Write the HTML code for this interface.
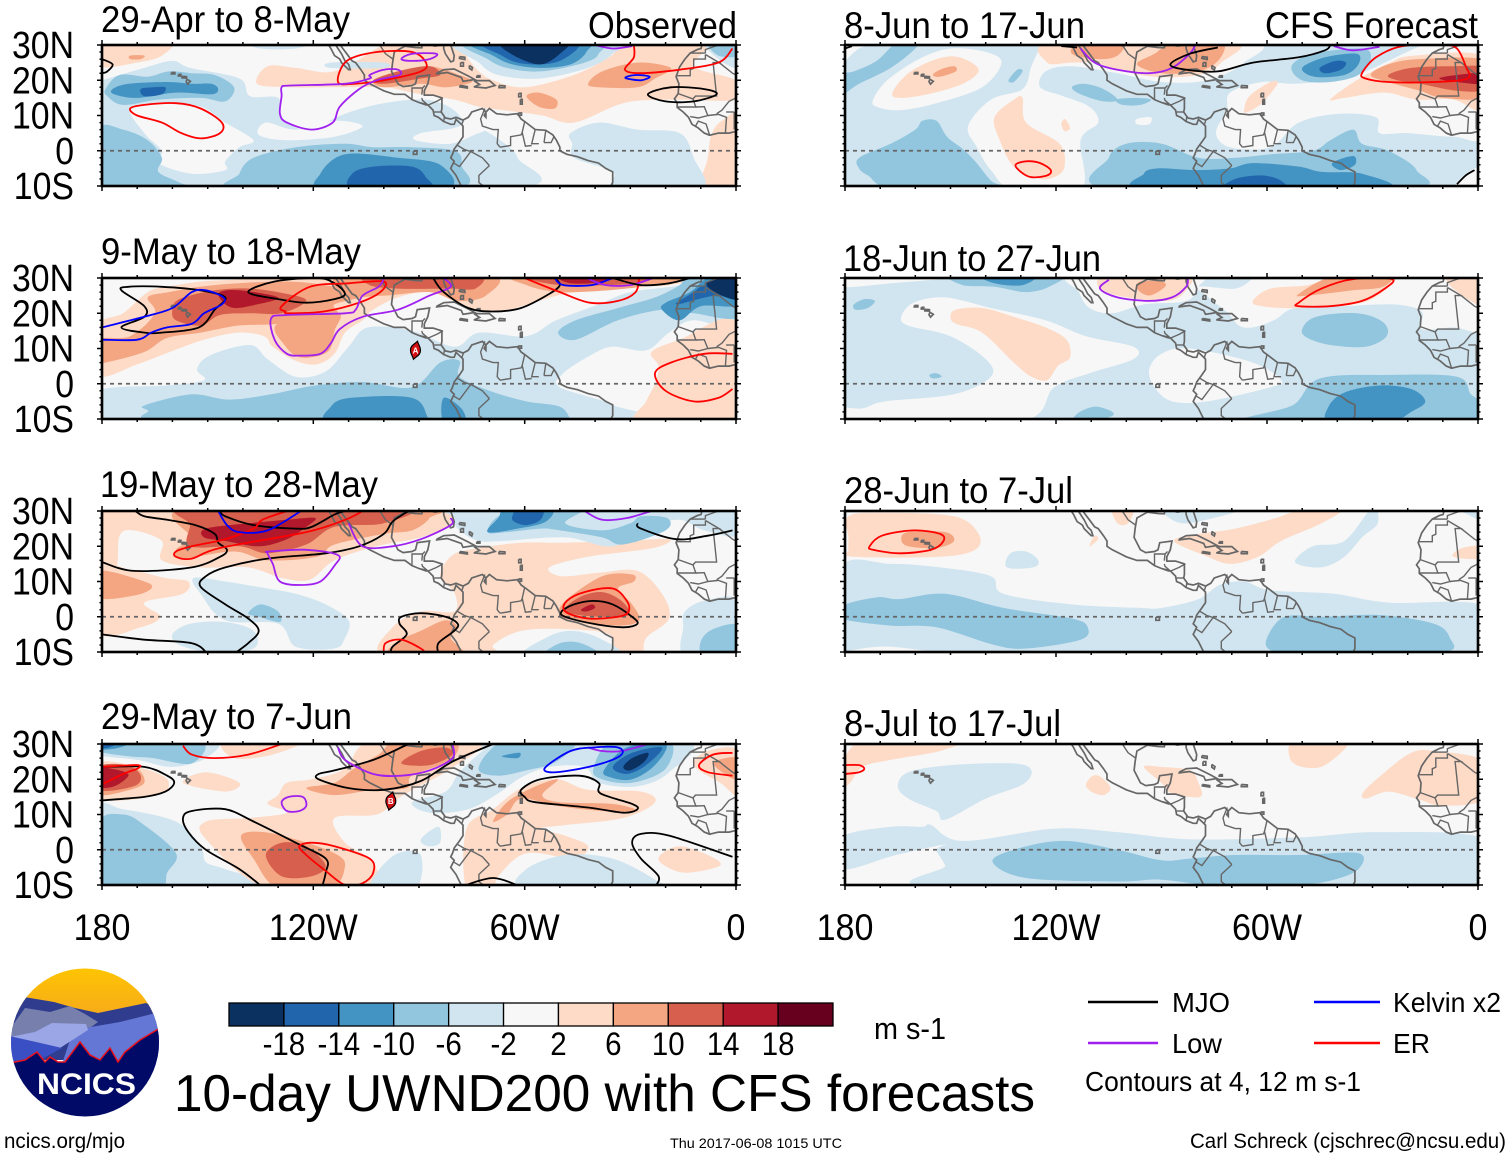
<!DOCTYPE html>
<html lang="en">
<head>
<meta charset="utf-8">
<title>10-day UWND200 with CFS forecasts</title>
<style>
html,body{margin:0;padding:0;background:#fff;}
body{width:1510px;height:1158px;overflow:hidden;}
svg{display:block;}
text{font-family:"Liberation Sans",sans-serif;fill:#000;}
</style>
</head>
<body>
<svg id="chart" xmlns="http://www.w3.org/2000/svg" width="1510" height="1158" viewBox="0 0 1510 1158">
<rect x="0" y="0" width="1510" height="1158" fill="#ffffff"/>
<g id="panels"></g>
<g font-size="37">
<text x="101" y="32" textLength="249" lengthAdjust="spacingAndGlyphs">29-Apr to 8-May</text>
<text x="588" y="38" textLength="149" lengthAdjust="spacingAndGlyphs">Observed</text>
<text x="101" y="264" textLength="260" lengthAdjust="spacingAndGlyphs">9-May to 18-May</text>
<text x="100" y="497" textLength="278" lengthAdjust="spacingAndGlyphs">19-May to 28-May</text>
<text x="101" y="729" textLength="251" lengthAdjust="spacingAndGlyphs">29-May to 7-Jun</text>
<text x="844" y="38" textLength="241" lengthAdjust="spacingAndGlyphs">8-Jun to 17-Jun</text>
<text x="1265" y="38" textLength="213" lengthAdjust="spacingAndGlyphs">CFS Forecast</text>
<text x="843" y="271" textLength="258" lengthAdjust="spacingAndGlyphs">18-Jun to 27-Jun</text>
<text x="844" y="503" textLength="229" lengthAdjust="spacingAndGlyphs">28-Jun to 7-Jul</text>
<text x="844" y="736" textLength="217" lengthAdjust="spacingAndGlyphs">8-Jul to 17-Jul</text>
</g>
<g id="colorbar"></g>
<text x="874" y="1039" font-size="31" textLength="72" lengthAdjust="spacingAndGlyphs">m s-1</text>
<text x="174" y="1111" font-size="52" textLength="861" lengthAdjust="spacingAndGlyphs">10-day UWND200 with CFS forecasts</text>
<g font-size="28">
<line x1="1088" x2="1158" y1="1002" y2="1002" stroke="#000" stroke-width="2.4"/>
<text x="1172" y="1012" textLength="58" lengthAdjust="spacingAndGlyphs">MJO</text>
<line x1="1314" x2="1380" y1="1002" y2="1002" stroke="#0000ff" stroke-width="2.4"/>
<text x="1393" y="1012" textLength="108" lengthAdjust="spacingAndGlyphs">Kelvin x2</text>
<line x1="1088" x2="1158" y1="1043" y2="1043" stroke="#a020f0" stroke-width="2.4"/>
<text x="1172" y="1053" textLength="50" lengthAdjust="spacingAndGlyphs">Low</text>
<line x1="1314" x2="1380" y1="1043" y2="1043" stroke="#ff0000" stroke-width="2.4"/>
<text x="1393" y="1053" textLength="37" lengthAdjust="spacingAndGlyphs">ER</text>
<text x="1085" y="1091" textLength="276" lengthAdjust="spacingAndGlyphs">Contours at 4, 12 m s-1</text>
</g>
<text x="4" y="1148" font-size="21" textLength="121" lengthAdjust="spacingAndGlyphs">ncics.org/mjo</text>
<text x="670" y="1148" font-size="14" textLength="172" lengthAdjust="spacingAndGlyphs">Thu 2017-06-08 1015 UTC</text>
<text x="1190" y="1148" font-size="21" textLength="316" lengthAdjust="spacingAndGlyphs">Carl Schreck (cjschrec@ncsu.edu)</text>
<g>
<clipPath id="logo-clip"><circle cx="85" cy="1042.5" r="74"/></clipPath>
<defs><linearGradient id="sky" x1="0" y1="0" x2="0" y2="1"><stop offset="0" stop-color="#ffc600"/><stop offset="1" stop-color="#f6ab1a"/></linearGradient></defs>
<g clip-path="url(#logo-clip)">
<rect x="5" y="965" width="160" height="50" fill="url(#sky)"/>
<polygon points="5,998 24,997 54,1002 75,1008 98,1013 146,1003 165,1012 165,1060 5,1060" fill="#303d8f"/>
<polygon points="5,1036 25,1008 50,1012 70,1006 85,1014 98,1022 80,1035 40,1045 5,1045" fill="#7780ad"/>
<polygon points="70,1040 85,1028 120,1022 160,1012 165,1012 165,1070 60,1070" fill="#6577d4"/>
<polygon points="10,1037 35,1032 52,1023 86,1024 88,1030 60,1048 36,1042" fill="#9aa6e6"/>
<polygon points="5,1035 36,1042 62,1048 40,1060 14,1066 5,1066" fill="#3a4fc4"/>
<polygon points="5,1064 25,1060 37,1052 45,1062 50,1057 58,1062 65,1062 80,1042 90,1055 100,1060 110,1048 118,1062 125,1052 140,1040 165,1025 165,1125 5,1125" fill="#010a66"/>
<polyline points="5,1064 25,1060 37,1052 45,1062 50,1057 58,1062 65,1062 80,1042 90,1055 100,1060 110,1048 118,1062 125,1052 140,1040 165,1025" fill="none" stroke="#e8101c" stroke-width="1.5"/>
</g>
<text x="37" y="1094" font-size="30" font-weight="bold" textLength="99" lengthAdjust="spacingAndGlyphs" style="fill:#fff">NCICS</text>
</g>
</svg>
<script>
// ---------- colour bar values ----------
const colorbarLevels = [-18,-14,-10,-6,-2,2,6,10,14,18];
const bandValues = [-20,-16,-12,-8,-4,0,4,8,12,16,20];
const bandColors = ['#0a3160','#2166ac','#4393c3','#92c5de','#d1e5f0','#f7f7f7','#fddbc7','#f4a582','#d6604d','#b2182b','#67001f'];
// ---------- axis tick labels ----------
const lonTickValues = [180,120,60,0];
const lonTickLabels = ['180','120W','60W','0'];
const latTickValues = [30,20,10,0,-10];
const latTickLabels = ['30N','20N','10N','0','10S'];
// ---------- tropical cyclones: name, deg W, deg N, panel index ----------
const stormNames = ['A','B'];
const stormLons = [91,98];
const stormLats = [9.5,13.8];
const stormPanels = [1,3];

// ---------- filled U-wind bands: [value, [[degW, degN], ...]] ----------
const fillsApr29 = [
[4,[[136,19],[133,24],[125,23.5],[114,22.5],[102,29],[98,31],[80,31],[76,26],[73,22.5],[69,20],[60,18],[46,21.5],[36,26.5],[30,30.5],[8,31],[12,24],[0,20],[-1,14.5],[19,14.5],[32,13.5],[46,8],[55,10],[66,11.5],[73,12.5],[80,14.5],[92,16.5],[100,18],[114,18],[127,18]]],
[4,[[181,31],[181,24],[170,25],[163,27],[161,31]]],
[4,[[-2,10],[4,8.5],[7,4.5],[8,-2],[9.5,-11],[-2,-11]]],
[8,[[172,27],[168,27],[169,26],[172,26]]],
[8,[[42,19],[38,22.5],[28,25],[18.5,23.5],[23,20.5],[28,18],[39,18]]],
[8,[[59.5,15.5],[56,16.5],[51,14.5],[51.5,12],[56,12.5]]],
[8,[[103,20],[96,22.5],[87,24],[78.5,21.5],[75,19.5],[82.5,18],[89.5,19],[100,18]]],
[12,[[103,20],[96,22.5],[87,24],[84,21.5],[89.5,20.5],[100,19]]],
[-4,[[180,20],[168,23.5],[160,25.5],[155,23.5],[141,20.5],[138,15.5],[130,15],[129,9.5],[122,6],[111,10.5],[100,13.5],[88,14.5],[80,11.5],[78.5,7],[89.5,5],[91,3],[81,2],[73,5],[70,5],[62,-2],[65,-11],[181,-11],[181,20]]],
[0,[[172,12],[163,13.5],[152,12.5],[145,8],[137,3],[141,1],[145,-3],[145,-5.5],[154.5,-6.5],[164,-3.5],[163,0],[168,5]]],
[0,[[133.5,8],[125,6],[114,8.5],[106,7],[114,4],[127.5,3],[135.5,4.5]]],
[-4,[[115,25],[100,25],[100,23.5],[115,23.5]]],
[-4,[[139,31],[120,31],[125,29],[135,29]]],
[-4,[[47,5],[39,8],[28,6],[16,5],[12,-2],[10,-11],[34,-11],[35,-6],[46,-2],[46.5,2]]],
[-8,[[181,6],[174,6],[167,3],[163,-2],[164,-6],[158,-9],[155,-11],[181,-11]]],
[-8,[[141,-6.5],[137,-2],[125,1],[111,2],[103,1],[92,1],[80,0],[78,-4],[81,-11],[141,-11]]],
[-12,[[118,-6.5],[111,-1],[96,-2],[84,-4],[82.5,-11],[116.5,-11]]],
[-16,[[109,-6.5],[103,-4.5],[92,-4.5],[88,-7.5],[87.5,-11],[108.5,-11]]],
[-8,[[179,17.5],[175,21.5],[167,21],[161,22.5],[154.5,22],[148,21.5],[142.5,18],[145,14],[152,15],[164,14.5],[174,13],[178.5,15.5]]],
[-12,[[177,17.5],[172.5,19],[161.5,19.5],[154.5,19],[149,19],[147,17.5],[149,16],[159,16.5],[170,15],[176.5,16]]],
[-16,[[169,17.5],[165.5,18],[162,18],[163,16],[168,15.5]]],
[-4,[[78.5,31],[73,25],[67.5,21.5],[55.5,20.5],[42,23.5],[35,27.5],[35,31]]],
[-8,[[76.5,31],[70.5,26],[65,23.5],[55.5,22.5],[43,25],[39,27.5],[40.5,31]]],
[-12,[[75,31],[69,27],[63.5,24.5],[55.5,23.5],[47,24.5],[42.5,28],[44,31]]],
[-16,[[72,31],[66.5,27],[62,25],[55.5,24.5],[50,25.5],[45,29],[46.5,31]]],
[-20,[[66.5,31],[63,27],[55.5,24.5],[50,27.5],[48.5,31]]],
[-4,[[9,31],[5,26],[-1,23.5],[-1,31]]],
[-8,[[8,31],[5,27],[-1,27],[-1,31]]]
];
const fillsMay9 = [
[4,[[181,16.5],[174,20],[167,26],[161.5,27.5],[152,29],[141,29.7],[141,31],[15,31],[19,28],[32,27.5],[48.5,25.5],[59,22.5],[65,21],[73,21],[80,23.5],[87,26],[96,24.5],[103,21],[106,18],[111,14.5],[114,8.5],[119,5.5],[125,6.5],[131.5,10.5],[134,13.5],[141.5,14.5],[151,12.5],[159.5,9.5],[170,5.5],[181,2.5]]],
[8,[[181,12.5],[172,13.5],[165,20],[167,24.5],[161,26],[148,28],[127.5,29],[114,27.5],[106,25],[114,22.5],[114,19.5],[130,17],[141.5,16.5],[152,14.5],[161.5,13],[168,9],[179,6],[181,6]]],
[8,[[131,16],[127,18],[113,20],[114,15],[116,9],[124,7.5],[129,12]]],
[8,[[111,31],[70,31],[71,25],[79,23.5],[87,26],[100,25],[111,25]]],
[8,[[61,31],[13,31],[27,27.5],[48.5,26],[59.5,28]]],
[12,[[160,21],[158,24],[148,26.5],[138,27],[127.5,25.5],[122,23.5],[129,20],[138,20],[146.5,19.5],[152,16.5],[159,18]]],
[16,[[146.5,26],[141,26.5],[130,24.5],[136,22.5],[142.5,21.5],[146,23.5]]],
[12,[[104,31],[74,31],[74,27],[81,27],[96,27],[104,28]]],
[12,[[59.5,31],[28,31],[28,28.5],[50,28]]],
[16,[[50.5,31],[35,31],[37.5,29],[47,28.5]]],
[-4,[[181,-2],[161.5,-0.5],[151,1],[153,4],[149.5,8],[138,11],[133,7],[125,2],[116.5,3.5],[110,10.5],[104.5,16],[92,15],[80,10.5],[73,14.5],[59.5,13.5],[51,18],[39,22.5],[30,26],[16,28],[13,31],[-1,31],[-1,16],[12,18],[19,14.5],[25.5,9.5],[35,10.5],[40.5,8.5],[49,3],[50,-1],[35,-6],[34,-11],[181,-11]]],
[4,[[24,9],[16,12.5],[0,17.5],[-1,-11],[27.5,-11],[25.5,-5],[23,0],[22,5]]],
[-8,[[167.5,-6],[154.5,-3],[144,-4.5],[132,-3],[119.5,-0.5],[106,0.5],[92,-1],[84,6],[78.5,6.5],[78.5,2],[70,-2],[59.5,-5],[50,-6.5],[47,-10],[46,-11],[157,-11],[167,-7.5]]],
[-12,[[115,-6.5],[109.5,-4],[92,-4],[87.5,-9.5],[87,-11],[115,-11]]],
[-12,[[83,-4],[78,-7],[77,-11],[83,-11]]],
[-8,[[50.5,14.5],[45.5,18],[33.5,21.5],[23,24.5],[16,28],[13,31],[-1,31],[-1,19],[12,20],[21,21],[33.5,18],[45.5,12.5]]],
[-12,[[21,21],[20,23],[13,26],[8,30],[-1,31],[-1,22.5],[10,22],[16,18]]],
[-16,[[17,22.5],[12,26],[9,28],[-1,31],[-1,24],[6,25]]],
[-20,[[6,26],[8,29],[-1,31],[-1,24]]]
];
const fillsMay19 = [
[4,[[181,31],[78.5,31],[80,26.5],[89.5,22.5],[102,20],[114,16],[121,10.5],[129,11],[138.5,14],[152,14],[163,16],[163,21.5],[171,24.5],[175,23],[176,14],[181,14]]],
[4,[[181,14],[172.5,13.5],[162,11],[155.5,10],[157,6.5],[168,4],[163.5,0],[169,-3],[181,-4.5]]],
[8,[[181,13],[168,10],[166,8],[171,6],[181,5.5]]],
[4,[[80,7],[84,11.5],[80.5,17.5],[73,19.5],[61,21],[48.5,21],[32,21.5],[19,22],[23.5,19.5],[42,17],[53,14],[49.5,11.5],[39,12.5],[28,13],[21,6.5],[19,-0.5],[25.5,-6],[27,-11],[34,-11],[36,-5],[48.5,-3.5],[61,-4],[69,-8],[69,-11],[100,-11],[97.5,-3],[89.5,1.5],[80,1.5]]],
[8,[[98,-11],[96,-7],[89.5,-4],[82.5,-1],[79,-3],[81,-6],[78,-11]]],
[8,[[50,0.5],[48.5,4.5],[38,11.5],[29.5,12],[29,10],[33.5,8],[29.5,3.5],[27.5,-1],[33.5,-2.5],[46,-1]]],
[12,[[48.5,1.5],[44.5,5.5],[38,7],[32.5,4.5],[30.5,0.5],[39,0]]],
[16,[[44,2],[41,3.5],[40,2.5],[42.5,1.5]]],
[8,[[159,19],[155,22.5],[155.5,31],[88,31],[87,28],[92,24.5],[100,23.5],[114,20.5],[119,17],[133,16],[142.5,18.5],[157.5,16.5]]],
[12,[[155,26],[155,31],[95,31],[100,26.5],[114,25.5],[122,20.5],[133,18],[141,20],[155,20]]],
[16,[[151,22.5],[150.5,25],[138.5,26.5],[127.5,27.5],[119.5,28],[122,25.5],[127.5,22],[135.5,20],[145,21.5]]],
[-4,[[154,11],[145,10],[133,8],[125,6.5],[116.5,3.5],[110,-1],[111,-6],[114,-9],[125,-8.5],[130,-2],[145,-1],[152,6.5]]],
[-4,[[160,-5],[155,-2],[145,-1.5],[137,-4],[137,-9],[149,-10],[158,-8]]],
[-8,[[138.5,1],[135,3.5],[130,1.5],[129.5,-1.5],[135.5,0]]],
[-4,[[80,28],[76,31],[-1,31],[-1,23],[9,24.5],[16,27.5],[24,25.5],[35,20],[48.5,22.5],[66,21.5],[73,21.5],[78.5,24.5]]],
[-8,[[70.5,24],[67.5,28.5],[59.5,31],[43,31],[48.5,26.5],[38,24.5],[30,26.5],[27,28.5],[19.5,28],[20,24.5],[32,20.5],[38,22.5],[50,24.5],[55.5,25],[65,24]]],
[-12,[[70.5,24],[67.5,28],[65,31],[52.5,31],[54,27],[62,25]]],
[-16,[[63.5,28.5],[61.5,31],[55,31],[55.5,27.5],[59.5,26],[63,27]]],
[-4,[[14.5,1.5],[9,4.5],[-1,4.5],[-1,-11],[14.5,-11],[15,-3]]],
[-8,[[10,-7],[6.5,-3.5],[-1,-2.5],[-1,-11],[9,-11]]],
[-4,[[59.5,-11],[54,-6],[47,-4],[39,-6],[33.5,-11]]],
[-8,[[54,-11],[50,-7.5],[44,-7.5],[39,-11]]]
];
const fillsMay29 = [
[-4,[[181,11.5],[174,11.5],[159,8],[152,1],[150.5,-3.5],[145,-5.5],[131.5,-11],[181,-11]]],
[-8,[[181,7.5],[174,10],[168,7],[159,-1],[161.5,-6.5],[164,-11],[181,-11]]],
[-4,[[181,31],[149,31],[150.5,26],[160,23.5],[170,25.5],[181,27]]],
[-8,[[181,31],[152.5,31],[154.5,24.5],[165.5,26],[172.5,26.5],[181,28]]],
[-12,[[181,31],[171.5,31],[175,29],[181,28.5]]],
[-16,[[181,31],[175,31],[178,29],[181,29]]],
[4,[[181,24.5],[170,23.5],[161.5,20],[164,15.5],[181,14.5]]],
[8,[[181,23.5],[171,23.5],[168,19],[174,16.5],[181,16]]],
[12,[[181,23.5],[173,24],[169,21],[171,18],[181,17]]],
[16,[[181,23],[175,22.5],[172.5,21],[176.5,18],[181,18]]],
[4,[[130,15.5],[127.5,19],[120.5,20],[111,23],[103,31],[72.5,31],[81,23],[91,17.5],[96,14.5],[102,10],[114,9],[111,2],[103,-3.5],[104.5,-11],[133,-11],[150.5,3],[150.5,8],[138.5,9],[127.5,10.5],[133,13]]],
[4,[[157,19],[150.5,22],[141,19],[145,16.5]]],
[4,[[145,31],[123.5,31],[131.5,27],[142.5,26]]],
[8,[[122,17.5],[114,19],[108.5,23],[101.5,27],[96,31],[80,31],[81,25.5],[92,21],[93.5,17.5],[103,17],[114,15.5]]],
[12,[[95,24.5],[89.5,28],[82.5,29],[80.5,27],[87,24]]],
[8,[[140.5,4],[134,5],[123.5,2.5],[114,-1],[111,-4.5],[115,-11],[130,-11],[137,-2.5]]],
[12,[[133.5,-1.5],[129,2],[122,1],[116.5,-4.5],[120.5,-7.5],[129,-7.5]]],
[-4,[[92,13.5],[82.5,16.5],[78.5,22],[72,28],[67.5,31],[15,31],[19,22],[28,18],[39,19],[43,23.5],[53,23.5],[61,20.5],[67.5,16],[76,11.5],[87,10.5]]],
[-8,[[73,22.5],[70.5,27.5],[65,30.5],[46,31],[51,25],[59.5,22.5],[67.5,21]]],
[-8,[[40.5,23],[35,31],[19,31],[20,23],[29.5,19],[38,20]]],
[-12,[[66.5,26.5],[61.5,27.5],[62,26]]],
[-12,[[37.5,22.5],[31,29],[20,30],[23,24],[29.5,20],[35.5,20.5]]],
[-16,[[35,23.5],[29.5,27.5],[21,29],[25.5,24],[31,21.5]]],
[-20,[[32,23.5],[29.5,26],[25,27.5],[26,25],[30,22.5]]],
[4,[[76.5,-11],[76.5,6],[69,11.5],[61,17.5],[51,20],[42,17],[27,16.5],[23,13.5],[32,9],[48.5,7],[55.5,6],[48.5,4],[42,1],[46,-2.5],[59.5,-1],[67.5,-7.5],[69,-11]]],
[8,[[69,8],[65,13.5],[58,17.5],[50.5,20],[55,15.5],[50,13.5],[35,13],[28,11],[38,11],[51,12.5],[61,14.5],[65,10]]],
[4,[[21.5,-1.5],[16,1],[8,-1.5],[4.5,-4.5],[14.5,-6.5],[21,-4]]],
[-4,[[59.5,-11],[59.5,-5.5],[48.5,-1.5],[35,-2.5],[23,-8.5],[22,-11]]],
[-4,[[102,-6.5],[96,-1],[89.5,-1.5],[91,-11],[103,-11]]],
[-4,[[89.5,3],[84.5,6.5],[84,2],[87.5,1]]],
[4,[[12,24],[8,28],[-1,28],[-1,15.5],[4.5,19]]],
[8,[[6.5,24.5],[-1,26],[-1,19.5]]]
];
const fillsJun8 = [
[0,[[181,25],[176,29],[169.5,31],[181,31]]],
[0,[[172,14.5],[168,20],[159,26],[150,29],[140,28],[135.5,25],[141,18],[154,13.5],[164.5,11.5],[171,12.5]]],
[0,[[145,7],[138.5,14.5],[129.5,17.5],[127,24],[124.5,29],[122,31],[65,31],[66.5,25],[77,20],[90,19.5],[102.5,22],[115.5,24],[123,22.5],[124.5,18],[118,15.5],[110.5,12.5],[108,8],[113,3],[113,-11],[132,-11],[138.5,-5.5],[142.5,1]]],
[0,[[70.5,16.5],[61.5,19.5],[52.5,19],[42,20],[32,22.5],[12.5,31],[-2,31],[-2,5],[7,4],[20,5],[28,5],[29,9.5],[39.5,10.5],[51,8],[59,1],[70.5,1],[74.5,5],[71.5,11.5]]],
[0,[[97,9],[93,9.5],[93.5,7.5],[97,7.5]]],
[0,[[6.5,-11],[3.5,-6.5],[-2,-4.5],[-2,-11]]],
[4,[[166.5,16.5],[162,22],[154,26],[147.5,26.5],[142,23],[146.5,19],[156.5,16],[164.5,15]]],
[8,[[155,21.5],[153,23],[149,24],[148.5,22.5],[153,21]]],
[4,[[137.5,9.5],[132,14.5],[129.5,15],[128.5,8],[119,2],[117.5,-4],[119.5,-7],[124.5,-8],[132,-4.5],[136,3]]],
[4,[[118.5,7.5],[117.5,9],[116,6.5],[117.5,5.5]]],
[4,[[122.5,25],[120.5,31],[70.5,31],[73,25],[79.5,21.5],[92,21],[102.5,23],[109,25],[115.5,25]]],
[8,[[115.5,27.5],[113,31],[101,31],[102.5,27],[108,26]]],
[8,[[97,24.5],[92,27.5],[86,31],[73,31],[73.5,26],[79.5,22.5],[90,22]]],
[4,[[42,14.5],[34.5,20],[25,25],[18,27],[-2,26.5],[-2,11.5],[7,14.5],[17.5,14.5],[26.5,16.5],[38,15]]],
[4,[[66.5,11.5],[65,15.5],[59,19.5],[57,19],[61.5,13.5],[65.5,11]]],
[8,[[30.5,21.5],[25.5,24.5],[16.5,26],[-2,25.5],[-2,15.5],[10,15],[16.5,17],[25.5,19.5]]],
[12,[[25.5,21.5],[19,23.5],[7,24],[-2,23.5],[-2,17.5],[6,17],[16.5,19],[23,20]]],
[16,[[11,20.5],[6,21.5],[-2,22],[-2,19],[6,19.5]]],
[-8,[[181,16],[176,19],[167,23.5],[160,29],[160,31],[165,31],[171,25.5],[177.5,22.5],[181,21.5]]],
[-8,[[133.5,20],[131,23],[129.5,22.5],[132,19.5]]],
[-8,[[115.5,18],[112,19],[106.5,17.5],[102.5,14.5],[106.5,14],[113,16]]],
[-8,[[103,14.5],[97.5,15],[93,14.5],[96,13],[101,13]]],
[-8,[[176,-5],[176,-2],[167,2],[160,6],[158,8.5],[154,8.5],[151,4],[146.5,0.5],[143,-3],[138.5,-8.5],[135,-11],[165.5,-11],[173.5,-7]]],
[-8,[[105,-2],[100,2],[90,2],[79.5,-2],[69,-2],[59,-1],[47,0],[42,3],[35.5,6],[33,2],[25.5,0],[17.5,-5.5],[21.5,-11],[104,-11]]],
[-12,[[95,-6.5],[91,-5],[80.5,-5.5],[70.5,-5],[64,-3.5],[51,-4.5],[44.5,-6],[33,-6.5],[28,-11],[93.5,-11]]],
[-12,[[41.5,-3.5],[35.5,-1.5],[35,-4],[39,-5.5]]],
[-16,[[72,-11],[69,-8],[61.5,-7],[56,-8.5],[55.5,-11]]],
[-8,[[53,24],[47,27.5],[33,29],[30.5,26],[34,21.5],[42,19.5],[50,20]]],
[-12,[[50,23.5],[43.5,26.5],[34.5,27.5],[34,24.5],[38,21.5],[46.5,21]]],
[-16,[[45,23.5],[40.5,25.5],[37.5,25],[39,23],[43.5,22]]]
];
const fillsJun18 = [
[0,[[181,27.5],[167,28.5],[150,30],[149,31],[181,31]]],
[0,[[164,19],[160.5,23],[151.5,24.5],[138.5,21.5],[123,18],[111.5,13.5],[98,10.5],[98,7],[110.5,3],[120.5,-1],[131,-11],[181,-11],[181,-7],[175,-7],[168.5,-5],[149,-3],[138.5,2],[140,7],[150,13.5],[162,16.5]]],
[0,[[93.5,4],[90,8.5],[82,10],[64,6],[56,1],[59,-1],[77,-5],[87,-5],[92,-1]]],
[0,[[115.5,31],[80.5,31],[79.5,27.5],[83,23.5],[95,22.5],[104,20],[110.5,21.5],[113.5,26]]],
[0,[[79.5,27.5],[69,27],[64,30],[64,31],[-2,31],[-2,15.5],[7,16],[16,15.5],[16,20.5],[24,22.5],[38.5,22],[52,21.5],[58,18],[64,16],[68,16.5],[71,20],[76,24]]],
[-8,[[65,-11],[52.5,-6],[45,1.5],[25.5,2.5],[6,2],[2,-3],[-2,-6],[-2,-11]]],
[-12,[[42.5,-6.5],[38,-2.5],[28,-0.5],[19,-1.5],[15,-5],[19,-8],[25.5,-11],[42,-11]]],
[-8,[[50,15.5],[46,19],[34.5,20],[27,17.5],[26,13.5],[32,10.5],[42,11],[48.5,13]]],
[-8,[[114.5,-11],[114,-8.5],[109,-6.5],[104,-8],[105,-9.5]]],
[-8,[[149,31],[146.5,28],[137.5,27.5],[128.5,26],[122,27.5],[119.5,31]]],
[-12,[[141.5,31],[137.5,28.5],[129.5,28],[126,31]]],
[-8,[[177.5,22.5],[174.5,24],[171.5,23.5],[173.5,21.5],[177,21]]],
[-8,[[156,2.5],[154,3],[152.5,2],[155,1.5]]],
[4,[[150,19],[148.5,21],[141,21.5],[132,19],[123,16],[117,12.5],[116,7.5],[119.5,5],[122.5,1],[127,2],[132,6],[141,14.5],[148.5,17]]],
[4,[[108,27.5],[105,31],[83,31],[83,26.5],[88.5,23.5],[102.5,25]]],
[8,[[97,27],[96,29],[90,29],[89,27.5],[93.5,25]]],
[4,[[64,23.5],[59,27],[48.5,28],[38,31],[24,31],[25,28],[33,23],[51,21.5],[61.5,22]]],
[8,[[51,25.5],[40,31],[25,31],[27,27.5],[35.5,26.5],[48.5,25]]],
[4,[[8.5,31],[-2,31],[-2,22],[7,27]]]
];
const fillsJun28 = [
[4,[[179,22.5],[179,28.5],[169.5,29.5],[149,28.5],[142,23.5],[143,19],[153,17],[177.5,17],[179,19]]],
[8,[[164,22],[162,24],[151.5,24],[149,21.5],[154,19.5],[162,20]]],
[-4,[[181,14],[167,15],[153,14],[138.5,11.5],[135,6.5],[115.5,3.5],[96,2.5],[90,2.5],[79.5,5],[73.5,9],[66.5,10],[59,7.5],[41,6.5],[25.5,4],[-2,3],[-2,-11],[181,-11]]],
[0,[[181,-11],[178,-9.5],[167,-8.5],[151.5,-11]]],
[-8,[[181,3],[171,5.5],[164.5,5],[151.5,6.5],[135,2.5],[115.5,-0.5],[111,-3],[113,-6.5],[128.5,-9],[137.5,-8],[154,-3],[167,-2.5],[181,-0.5]]],
[-8,[[60,-6],[55,0],[44.5,0],[28,0.5],[12.5,-2],[8,-6],[9,-10],[32,-11],[51,-11],[59,-9.5]]],
[4,[[86.5,21.5],[79.5,23.5],[69,25],[57.5,28],[48.5,31],[38,31],[44.5,26.5],[56,21.5],[62.5,17],[70.5,15],[78,17.5]]],
[4,[[104,31],[98,31],[99.5,26.5],[102.5,26.5]]],
[4,[[110.5,20],[109,23],[108,22]]],
[4,[[7,17],[4.5,19.5],[-2,20],[-2,16.5]]],
[-4,[[134,14],[133,18],[128.5,18.5],[125,16],[126.5,14]]],
[-4,[[52,15.5],[47,20],[38,21.5],[30,31],[28.5,26.5],[33,22.5],[38,17],[44.5,14]]],
[-4,[[88.5,31],[66.5,31],[79.5,27],[86,27]]],
[-4,[[6,31],[-2,31],[-2,27]]]
];
const fillsJul8 = [
[4,[[181,18],[176,30.5],[148,31],[153,28],[167,25.5],[175,23.5],[178.5,19]]],
[4,[[53.5,26],[52,31],[37,31],[43.5,24],[50,23.5]]],
[4,[[111.5,18.5],[109.5,21],[107,20.5],[104.5,17.5],[106.5,15.5],[110,16.5]]],
[4,[[95,23.5],[90,23.5],[82,22.5],[79.5,19],[79,15],[87,16],[90,19]]],
[4,[[32.5,16.5],[26.5,22],[19,27.5],[12.5,28],[-2,25],[-2,14.5],[10,12.5],[17.5,14.5],[25.5,16.5],[32,14.5]]],
[-4,[[165,18],[162,22],[150,24],[132,24.5],[127,22.5],[129.5,18.5],[140,14.5],[151.5,8.5],[154,11],[162,14.5]]],
[-4,[[181,3.5],[167,6.5],[158,6.5],[155.5,7],[146.5,2.5],[120.5,6],[102.5,5],[82,3],[51,3.5],[28,5],[-2,3],[-2,-11],[150,-11],[151.5,-4.5],[154,0],[151.5,1.5],[165.5,-1.5],[181,-5.5]]],
[-8,[[138,-3.5],[132,0],[118,2.5],[102.5,0],[90,-3],[82,-2.5],[69,-1.5],[51,-1.5],[34,-1],[34,-5.5],[41,-8.5],[51,-10],[72,-10.5],[90,-8.5],[102.5,-9],[128.5,-8]]]
];
const panelBases = [0,0,0,0,-4,-4,0,0];

// ---------- filtered-wave contours: [type, closed, [[degW, degN], ...]] ----------
const linesApr29 = [
['ER',1,[[172,12],[168,13],[159,13.5],[152,12],[146,8],[146.5,5],[152,3.5],[157.5,5],[163,8],[170,10]]],
['ER',1,[[113,19.5],[110.5,25.5],[102,28],[92,28],[88,25],[89.5,22.5],[100,20],[108.5,19]]],
['ER',0,[[29,30],[29,26.5],[31.5,23],[27,22],[16,23],[5,25],[1,29]]],
['Low',1,[[129,18],[126.5,18.5],[111,19],[104,20.5],[104,21.5],[100,23],[96,23],[95.5,21.5],[102,20],[107,17.5],[112.5,12.5],[114.5,8],[120.5,6],[127.5,8],[129.5,10.5],[129,15.5]]],
['Low',1,[[95,26],[92,27.5],[85,27.5],[87,26],[92,25.5]]],
['Low',0,[[40,30],[35,29],[29.5,29.7]]],
['Kelvin',1,[[31,21],[28,21.5],[24.5,21],[27,20],[31,20.5]]],
['MJO',1,[[25,16],[18.5,18],[9,17.5],[5.5,16],[12,14],[20,14]]],
['MJO',0,[[180,26],[177,24.5],[178.5,22.5],[180,22]]]
];
const linesMay9 = [
['MJO',1,[[174.5,26.5],[172.5,27.5],[163,27.5],[152,26.5],[145,24.5],[148,21],[152.5,16],[163,14.5],[168,14.5],[174.5,16],[168,19],[168,22]]],
['Kelvin',0,[[180,16],[168,19],[160,21.5],[154.5,26],[150.5,26.5],[145.5,24.5],[146,22.5],[151,20],[154.5,17],[161.5,16],[166,14.5],[170,12.5],[180,12.5]]],
['MJO',1,[[138.5,26],[131,29],[119,30],[114,28.5],[111,25.5],[114,24],[122,23],[130,24]]],
['ER',1,[[128,20.5],[129,22],[121,27.5],[110,28.5],[100,29],[101,26],[107,23],[117,20.5],[127,20]]],
['Low',0,[[100,29.7],[101.5,27.5],[106,25],[108,21],[111,20],[127.5,19.5],[132,18.5],[131,12.5],[127.5,8.5],[123.5,8],[118,8.5],[115,11.5],[112.5,15.5],[106,19],[96,21],[87,25],[81,27.5],[83,30]]],
['MJO',0,[[86,30],[83,26],[76,21.5],[69,20.5],[61,21.5],[53,25.5],[50,28],[51.5,30]]],
['ER',0,[[60,30],[50,26],[41.5,23],[33.5,23.5],[28.5,26],[27.5,30]]],
['Kelvin',0,[[51.5,30],[49,28],[41,28],[35,30]]],
['Low',0,[[42.5,30],[37,28],[30,28],[23.5,30]]],
['MJO',0,[[35,30],[27,28],[19,28.5],[13,30]]],
['ER',0,[[1,8.5],[9,8.5],[18.5,6],[23,3],[20,-2],[12,-5],[5,-4],[1,-1.5]]]
];
const linesMay19 = [
['MJO',0,[[170.5,30],[168,28.5],[161.5,27.5],[153.5,26],[148,23.5],[147,21],[144.5,19],[146.5,17],[154.5,14],[171,13],[180,15.5]]],
['MJO',0,[[146.5,30],[145,28.5],[137,26],[125,25],[120.5,25.5],[114,29],[111,30]]],
['MJO',0,[[93,30],[97.5,27],[100,23.5],[107,20],[116.5,18],[133,16.5],[145,14],[150.5,11.5],[152,8.5],[145,3.5],[138.5,-0.5],[135.5,-4],[138.5,-7.5],[142.5,-10.5]]],
['MJO',0,[[180,-5],[168,-6.5],[154.5,-7.5],[150,-10.5]]],
['MJO',1,[[49.5,1.5],[46,3.5],[40.5,4.5],[35,3.5],[29.5,0],[28,-2],[32,-3],[40.5,-2],[48.5,0]]],
['MJO',0,[[84.5,-10.5],[84.5,-7.5],[80,-4],[79,-2],[82.5,0],[89.5,1],[95,0],[95.5,-2],[93.5,-5],[97.5,-8.5],[98,-10.5]]],
['MJO',0,[[28,26.5],[27,25],[17,22],[8,23],[1,24.5]]],
['ER',0,[[127.5,30],[134.5,27.5],[137,25],[145,22],[154.5,20],[159,18.5],[159,17],[154.5,16.5],[146.5,19.5],[122,24],[111,27.5],[106,30]]],
['ER',1,[[48.5,1.5],[48,4.5],[43,7],[35,8],[31,4.5],[30.5,1.5],[33.5,0],[42,-0.5]]],
['ER',0,[[100,-10.5],[99.5,-7.5],[95,-6.5],[89.5,-9],[88,-10.5]]],
['Kelvin',0,[[147,30],[144.5,26],[141,24],[133,24.5],[123.5,30]]],
['Low',1,[[133,18],[132.5,18.5],[122,19],[113,17.5],[114,14.5],[118,10],[123.5,9],[129.5,10],[131.5,15]]],
['Low',0,[[110,26.5],[106,20],[97.5,20],[89.5,22],[81,26],[81,28]]],
['Low',0,[[43,30],[38,27.5],[31,28],[24,30]]]
];
const linesMay29 = [
['MJO',0,[[180,23.5],[168,23.5],[161.5,21],[159.5,19],[162,16.5],[168,15],[180,14]]],
['MJO',0,[[134.5,-10.5],[141,-5.5],[150.5,0],[155.5,5],[157,9],[154.5,11],[145,11.5],[137,8],[125,2],[116.5,-2.5],[116.5,-6.5],[117.5,-10.5]]],
['MJO',0,[[93,30],[103,25.5],[114,22.5],[118.5,21.5],[118.5,20],[110,17.5],[100,17],[89.5,19.5],[80.5,25],[69,30]]],
['MJO',1,[[61,17],[55.5,20],[44.5,21],[39,19],[38.5,16],[29.5,13],[28,11.5],[32,10.5],[42,12],[57,13.5],[60,15]]],
['MJO',0,[[23,-10.5],[22,-7.5],[27,-2.5],[29.5,2],[27,4.5],[19,4],[1,-2]]],
['MJO',0,[[78,-10.5],[69,-8],[61,-10.5]]],
['ER',0,[[157,29.5],[154.5,27],[148,26],[138.5,27],[129,30]]],
['ER',1,[[124,1],[120.5,2],[114,1],[104,-2.5],[103,-6.5],[106,-9.5],[111,-10],[116.5,-6],[122,-1.5]]],
['ER',0,[[180,18.5],[174,21.5],[170,23],[170,24],[180,23.5]]],
['ER',0,[[1,27.5],[6.5,27],[10.5,24],[8,22],[1,21]]],
['Low',0,[[113,29],[111,25.5],[103,21.5],[95,21],[87,22.5],[80.5,26],[80.5,30]]],
['Low',1,[[129,13.5],[127,15],[123,15],[122,12.5],[124,11],[127.5,11]]],
['Low',0,[[42,29],[38,28],[32.5,28],[25,30]]],
['Kelvin',1,[[54,23.5],[47,28],[40.5,29],[33.5,29],[32.5,27],[38,24.5],[47,22.5],[53,22]]]
];
const linesJun8 = [
['ER',1,[[131.5,-4],[128.5,-3],[124.5,-3.5],[121.5,-5.5],[122.5,-7],[127,-7.5],[130,-6]]],
['ER',1,[[33,22],[29,26.5],[21.5,29.7],[10,30],[6,29],[3.5,24],[3,20.5],[12.5,19.5],[25.5,19.5],[32,20.5]]],
['Low',0,[[113,29],[109,25],[102.5,23],[93.5,22],[87,23.5],[82,27.5],[80.5,29.7]]],
['Low',0,[[41,29.7],[35.5,28.5],[28,29.5]]],
['MJO',0,[[118.5,29.7],[114,29.3]]],
['MJO',0,[[74,29.3],[82,27.5],[87.5,24.5],[83,23],[74,22.5],[64,25],[51,26.5],[43.5,28.5],[42,30]]],
['MJO',0,[[6,-9.5],[3.5,-7],[1,-5.5]]],
['MJO',0,[[180,29],[178,29.7]]]
];
const linesJun18 = [
['ER',1,[[51,23],[44.5,27],[35.5,29.7],[24.5,29.7],[26.5,27],[33,23.5],[42,22],[51,22]]],
['Low',0,[[105,29.5],[107.5,27],[102.5,24.5],[93.5,23.5],[87,24.5],[83,27.5],[82.5,29.7]]]
];
const linesJun28 = [
['ER',1,[[173,20],[169.5,23],[160.5,24.5],[153,23.5],[152,21.5],[155.5,19],[164.5,18],[172,19]]]
];
const linesJul8 = [
['ER',0,[[180,24],[176,24],[174.5,23],[176,22],[180,21.5]]]
];

// ---------- shared geography in deg W, deg N ----------
const coastlines = [
[[116,30.5],[115,29],[114.5,28],[114,27],[112.5,26],[112,25],[110,23],[109.5,23],[110,24.5],[111,25.5],[112,27.5],[113,29],[114,30.5]],
[[113,31],[112,29.5],[110.5,27.5],[109,25.5],[108,25],[106.5,23],[105.5,21.5],[105.5,20],[104,19],[102,18],[100,17],[97,16],[95,16],[94,16],[92,14.5],[90,13.7],[88,13],[87.5,13],[86,11.5],[85.7,10],[84.5,9.5],[83,8.3],[81,7.5],[80,7.5],[79.5,8.9],[78,7.5],[77.5,7],[77.5,4],[78.5,2.5],[80,0.5],[80.5,-1],[81,-2],[80,-3],[81,-5],[79.5,-7],[78.5,-9],[77.5,-11]],
[[84,30],[85.5,29.7],[87,30.2],[89,30.2],[89.2,29.2],[91,29.3],[94,29.7],[97,28],[97.5,25],[97.8,22.5],[96,19],[94.5,18.2],[92,18.5],[91,19],[90.5,21],[87,21.5],[87.5,19],[88.5,17],[88.5,15.8],[86,15.8],[83.5,15],[83.5,12],[83.7,11],[82.5,9.3],[81,9],[79.5,9.5],[77.5,8.7],[76,9.5],[75,11],[72,12],[71,11],[71.5,10],[71,9.5],[71,11],[70,12],[68,10.5],[65,10.2],[62,10.5],[61,9],[60,8.3],[57,6],[54,5.8],[52,4.5],[51,3],[50,1],[50,0],[48,-1],[45,-1.7],[42,-2.8],[39,-3.5],[37,-5],[35,-6],[35,-9],[36,-11]],
[[83,30],[83,29],[82.5,27.5],[81,25.2],[80.2,25.5],[80,27],[81,30]],
[[85,22],[83,23],[80,23.2],[76,21.2],[74.2,20.2],[77.5,19.7],[78,20.8],[82,22.2],[85,21.8],[85,22]],
[[74.4,19.9],[70,19.9],[68.4,18.5],[71,17.8],[74.4,18.1],[72.8,18.8],[74.4,19.9]],
[[78.4,18.5],[76.3,18.2],[76.3,17.8],[78.4,18.1],[78.4,18.5]],
[[67.3,18.5],[65.6,18.4],[65.6,17.9],[67.3,17.9],[67.3,18.5]],
[[160.3,22.2],[159.3,22.2],[159.3,21.8],[160.3,21.8],[160.3,22.2]],
[[158.3,21.7],[157.6,21.7],[157.6,21.2],[158.3,21.2],[158.3,21.7]],
[[157.3,21.1],[156,21],[156,20.6],[157.3,20.7],[157.3,21.1]],
[[155.9,20.3],[154.9,19.7],[155.7,18.9],[156.1,19.6],[155.9,20.3]],
[[78.5,26.7],[77,26.5],[77,25.9],[78.5,26.2],[78.5,26.7]],
[[78.2,25],[77.4,25],[77.4,24],[78.2,24],[78.2,25]],
[[75.7,24.2],[74.8,23.6],[75,22.9],[75.7,23.4],[75.7,24.2]],
[[73.6,21.3],[72.7,21.3],[72.7,20.9],[73.6,20.9],[73.6,21.3]],
[[61.7,16.3],[61,16.3],[61,15.3],[61.7,15.3],[61.7,16.3]],
[[61.2,14.6],[60.7,14.6],[60.7,13.2],[61.2,13.2],[61.2,14.6]],
[[61.8,10.7],[60.9,10.7],[60.9,10.1],[61.8,10.1],[61.8,10.7]],
[[91.6,-0.1],[90.6,-0.1],[90.6,-1],[91.6,-1],[91.6,-0.1]],
[[9.7,30],[9.9,29],[11,28.7],[13,27.7],[14.5,26],[16,23.8],[17,21],[16.2,19],[16.4,16.2],[17.5,14.7],[16.7,13.6],[16.7,12.3],[15,11],[13.5,9.5],[12.5,7.5],[10.8,6.5],[9,5],[7.5,4.4],[5,5],[2,5],[0,5.5]]
];
const borders = [
[[106.5,31.7],[101,29.8],[99.5,27.5],[97.2,25.9]],
[[92,14.5],[92,17.8],[91,17.8],[89,17.8],[88.3,18.5]],
[[89,17.8],[89.2,15.9]],
[[90,13.7],[88,13.3],[87.5,13]],
[[89.2,15],[89,14.3],[87.5,13]],
[[87.3,13],[85,14],[83.2,15]],
[[85.7,11],[83.7,11]],
[[83,8.3],[82.8,9.6]],
[[77.4,8.7],[77.9,7.2]],
[[71.3,12],[72.5,9],[72,7],[69,6],[67.5,6],[67.8,2],[67,1]],
[[79,1.5],[77,0.3],[75.3,-0.2]],
[[80.3,-3.4],[78.5,-4.5],[75.3,-0.2]],
[[75.3,-0.2],[72,-2],[70,-4.2]],
[[70,-4.2],[73,-7],[73,-9],[70.5,-11]],
[[67,1],[64,1.5],[64,4],[61,4.5],[60.7,5.2]],
[[60,8.3],[60.7,5.2],[59.8,1.3],[58,1.5]],
[[57,6],[58,2],[56,2]],
[[54,5.8],[54.5,2.3]],
[[51.6,4.2],[52.5,2.3],[54.5,2.3]],
[[70.5,-11],[65.4,-10]],
[[13,27.7],[8.7,27.7]],
[[8.7,27.3],[8.7,26],[12,26],[12,23.4],[13,23],[13,21.3],[16.9,21.3]],
[[8.7,27.3],[4.8,25],[6.5,25],[5.5,15.5],[9.5,15.5],[11.5,15.5],[12.2,14.7],[16.4,16.2]],
[[4.8,25],[1,22],[-1,21]],
[[8.7,27.7],[8.7,28.7],[5,30]],
[[12.2,14.7],[11.4,12.4],[16.7,12.4]],
[[11.4,12.4],[9,12.5],[8,10],[10.7,9.3],[13,9.7]],
[[11.5,7],[10.7,8.4],[8.5,7.6],[7.5,4.4]],
[[5.5,10.5],[4,11.5],[2,14],[0,15]],
[[3,5],[2.7,9.5],[5,10.3],[8,10]],
[[0.5,11],[0.5,6]],
[[2.8,11],[0.5,11]]
];

const panelFills = [fillsApr29,fillsMay9,fillsMay19,fillsMay29,fillsJun8,fillsJun18,fillsJun28,fillsJul8];
const panelLines = [linesApr29,linesMay9,linesMay19,linesMay29,linesJun8,linesJun18,linesJun28,linesJul8];
const panelNames = ['apr29-may8','may9-may18','may19-may28','may29-jun7','jun8-jun17','jun18-jun27','jun28-jul7','jul8-jul17'];

// ---------- layout ----------
const NS = 'http://www.w3.org/2000/svg';
const colLeft = [102,845];
const colWidth = [634,633];
const rowTop = [45,278,511,744];
const panelHeight = 141;
const lineColor = {MJO:'#000000',Low:'#a020f0',Kelvin:'#0000ff',ER:'#ff0000'};

function svgEl(tag, attrs, parent){
  const el = document.createElementNS(NS, tag);
  for (const k in attrs) el.setAttribute(k, attrs[k]);
  parent.appendChild(el);
  return el;
}
function lonScale(lon, col){ return colLeft[col] + (180 - lon) / 180 * colWidth[col]; }
function latScale(lat, row){ return rowTop[row] + (30 - lat) / 40 * panelHeight; }
function smoothPath(pts, closed){
  const n = pts.length;
  const at = i => closed ? pts[(i + n) % n] : pts[Math.max(0, Math.min(n - 1, i))];
  let d = 'M' + pts[0][0].toFixed(1) + ' ' + pts[0][1].toFixed(1);
  const segs = closed ? n : n - 1;
  for (let i = 0; i < segs; i++){
    const p0 = at(i - 1), p1 = at(i), p2 = at(i + 1), p3 = at(i + 2);
    const c1x = p1[0] + (p2[0] - p0[0]) / 6, c1y = p1[1] + (p2[1] - p0[1]) / 6;
    const c2x = p2[0] - (p3[0] - p1[0]) / 6, c2y = p2[1] - (p3[1] - p1[1]) / 6;
    d += 'C' + c1x.toFixed(1) + ' ' + c1y.toFixed(1) + ' ' + c2x.toFixed(1) + ' ' + c2y.toFixed(1) + ' ' + p2[0].toFixed(1) + ' ' + p2[1].toFixed(1);
  }
  return closed ? d + 'Z' : d;
}
function straightPath(pts){
  return 'M' + pts.map(p => p[0].toFixed(1) + ' ' + p[1].toFixed(1)).join('L');
}
function condense(t, factor){
  const len = t.getComputedTextLength();
  t.setAttribute('textLength', (len * factor).toFixed(1));
  t.setAttribute('lengthAdjust', 'spacingAndGlyphs');
}
function bandColor(v){ return bandColors[bandValues.indexOf(v)]; }

const root = document.getElementById('panels');
panelFills.forEach(function(fills, idx){
  const col = idx < 4 ? 0 : 1;
  const row = idx % 4;
  const px = p => [lonScale(p[0], col), latScale(p[1], row)];
  const g = svgEl('g', {}, root);
  
  

  const cid = 'clip-' + idx;
  const cp = svgEl('clipPath', {id: cid}, g);
  svgEl('rect', {x: colLeft[col], y: rowTop[row], width: colWidth[col], height: panelHeight}, cp);
  const inner = svgEl('g', {'clip-path': 'url(#' + cid + ')'}, g);

  const bg = svgEl('rect', {x: colLeft[col], y: rowTop[row], width: colWidth[col], height: panelHeight, fill: bandColor(panelBases[idx])}, inner);
  
  

  fills.forEach(function(f){
    const path = svgEl('path', {d: smoothPath(f[1].map(px), true), fill: bandColor(f[0])}, inner);
    
    
  });

  coastlines.forEach(function(c){
    const path = svgEl('path', {d: straightPath(c.map(px)), fill: 'none', stroke: '#666666', 'stroke-width': 1.7}, inner);
    
    
  });
  borders.forEach(function(c){
    const path = svgEl('path', {d: straightPath(c.map(px)), fill: 'none', stroke: '#666666', 'stroke-width': 1.4}, inner);
    
    
  });

  const eq = svgEl('line', {x1: colLeft[col], x2: colLeft[col] + colWidth[col], y1: latScale(0, row), y2: latScale(0, row), stroke: '#666666', 'stroke-width': 1.8, 'stroke-dasharray': '4 4'}, inner);
  
  

  panelLines[idx].forEach(function(l){
    const path = svgEl('path', {d: smoothPath(l[2].map(px), !!l[1]), fill: 'none', stroke: lineColor[l[0]], 'stroke-width': 1.8}, inner);
    
    
  });

  stormPanels.forEach(function(sp, s){
    if (sp !== idx) return;
    const cx = lonScale(stormLons[s], col), cy = latScale(stormLats[s], row);
    const sg = svgEl('g', {}, g);
    
    
    svgEl('path', {d: 'M' + (cx + 2) + ' ' + (cy - 9) + 'C' + (cx - 1) + ' ' + (cy - 6) + ' ' + (cx - 5) + ' ' + (cy - 5) + ' ' + (cx - 5) + ' ' + cy + 'C' + (cx - 5) + ' ' + (cy + 4) + ' ' + (cx - 3) + ' ' + (cy + 5) + ' ' + (cx - 2) + ' ' + (cy + 9) + 'C' + (cx + 1) + ' ' + (cy + 6) + ' ' + (cx + 5) + ' ' + (cy + 5) + ' ' + (cx + 5) + ' ' + cy + 'C' + (cx + 5) + ' ' + (cy - 4) + ' ' + (cx + 3) + ' ' + (cy - 5) + ' ' + (cx + 2) + ' ' + (cy - 9) + 'Z', fill: '#d40f14', stroke: '#000', 'stroke-width': 1.2}, sg);
    const st = svgEl('text', {x: cx, y: cy + 3, 'text-anchor': 'middle', 'font-size': 8, 'font-weight': 'bold', style: 'fill:#fff'}, sg);
    st.textContent = stormNames[s];
  });

  // frame and ticks
  const frame = svgEl('rect', {x: colLeft[col], y: rowTop[row], width: colWidth[col], height: panelHeight, fill: 'none', stroke: '#000', 'stroke-width': 2.6}, g);
  
  

  let tickD = '';
  for (let lon = 0; lon <= 180; lon += 10){
    const x = lonScale(lon, col);
    const len = lon % 60 === 0 ? 5 : 3;
    tickD += 'M' + x.toFixed(1) + ' ' + rowTop[row] + 'V' + (rowTop[row] - len);
    tickD += 'M' + x.toFixed(1) + ' ' + (rowTop[row] + panelHeight) + 'V' + (rowTop[row] + panelHeight + len);
  }
  for (let lat = -10; lat <= 30; lat += 2){
    const y = latScale(lat, row);
    const len = lat % 10 === 0 ? 5 : 2.5;
    tickD += 'M' + colLeft[col] + ' ' + y.toFixed(1) + 'H' + (colLeft[col] - len);
    tickD += 'M' + (colLeft[col] + colWidth[col]) + ' ' + y.toFixed(1) + 'H' + (colLeft[col] + colWidth[col] + len);
  }
  const ticks = svgEl('path', {d: tickD, stroke: '#000', 'stroke-width': 1.5, fill: 'none'}, g);
  
  

  if (col === 0){
    latTickValues.forEach(function(v, i){
      const t = svgEl('text', {x: 74, y: latScale(v, row) + 13, 'text-anchor': 'end', 'font-size': 38}, g);
      t.textContent = latTickLabels[i];
      
      
      condense(t, 0.89);
    });
  }
  if (row === 3){
    lonTickValues.forEach(function(v, i){
      const t = svgEl('text', {x: lonScale(v, col), y: 940, 'text-anchor': 'middle', 'font-size': 37}, g);
      t.textContent = lonTickLabels[i];
      
      
      condense(t, 0.92);
    });
  }
});

// ---------- colour bar ----------
const cbar = document.getElementById('colorbar');
const cbarLeft = 229, cbarTop = 1003, cbarW = 604 / bandValues.length, cbarH = 23;
bandValues.forEach(function(v, i){
  const r = svgEl('rect', {x: cbarLeft + i * cbarW, y: cbarTop, width: cbarW, height: cbarH, fill: bandColors[i], stroke: '#000', 'stroke-width': 1.3}, cbar);
  
  
});
colorbarLevels.forEach(function(v, i){
  const t = svgEl('text', {x: cbarLeft + (i + 1) * cbarW, y: 1055, 'text-anchor': 'middle', 'font-size': 32}, cbar);
  t.textContent = String(v);
  
  
  condense(t, 0.92);
});
</script>
</body>
</html>
